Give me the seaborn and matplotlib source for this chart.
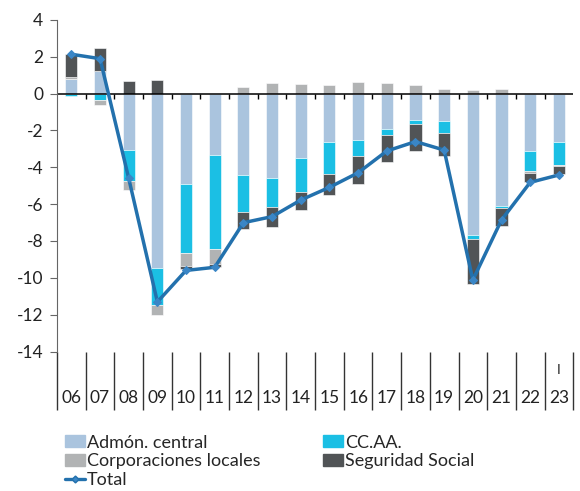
import numpy as np
import pandas as pd
import matplotlib
matplotlib.use("Agg")
import matplotlib.pyplot as plt
from matplotlib.patches import Patch
from matplotlib.lines import Line2D
import seaborn as sns

years = ["06", "07", "08", "09", "10", "11", "12", "13", "14", "15",
         "16", "17", "18", "19", "20", "21", "22", "23"]
admon = [0.77, 1.24, -3.07, -9.45, -4.91, -3.34, -4.42, -4.57, -3.48, -2.63,
         -2.52, -1.93, -1.44, -1.49, -7.68, -6.10, -3.10, -2.65]
ccaa = [-0.12, -0.35, -1.66, -2.04, -3.76, -5.11, -1.99, -1.60, -1.85, -1.72,
        -0.87, -0.32, -0.23, -0.64, -0.20, -0.10, -1.10, -1.23]
ccll = [0.11, -0.30, -0.51, -0.53, -0.69, -0.82, 0.34, 0.55, 0.50, 0.44,
        0.61, 0.55, 0.48, 0.26, 0.19, 0.26, -0.13, -0.05]
segsoc = [1.26, 1.25, 0.68, 0.73, -0.18, -0.13, -0.94, -1.06, -0.99, -1.16,
          -1.52, -1.48, -1.43, -1.24, -2.46, -0.99, -0.45, -0.44]
total = [2.13, 1.89, -4.60, -11.31, -9.60, -9.43, -7.01, -6.68, -5.78, -5.09,
         -4.30, -3.12, -2.61, -3.07, -10.12, -6.86, -4.82, -4.42]

names = ["Admón. central", "CC.AA.", "Corporaciones locales", "Seguridad Social"]
colors = ["#aac4de", "#1bbfe4", "#b1b3b4", "#515456"]
line_color = "#2371ad"

sns.set_style("white")
plt.rcParams["font.family"] = ["Lato", "DejaVu Sans"]
plt.rcParams["axes.unicode_minus"] = False

fig = plt.figure(figsize=(5.8, 4.91), dpi=100)
ax = fig.add_axes([0.0983, 0.2841, 0.890, 0.6756])

pos_base = np.zeros(len(years))
neg_base = np.zeros(len(years))
for vals, col in zip([admon, ccaa, ccll, segsoc], colors):
    v = np.array(vals)
    bottom = np.where(v >= 0, pos_base, neg_base)
    sns.barplot(x=years, y=v, bottom=bottom, color=col, width=0.42,
                saturation=1, edgecolor="white", linewidth=0.4, ax=ax)
    pos_base = pos_base + np.where(v >= 0, v, 0)
    neg_base = neg_base + np.where(v < 0, v, 0)

x = np.arange(len(years))
sns.lineplot(x=x, y=total, color=line_color, linewidth=2.5, marker="D",
             markersize=4.5, markerfacecolor="#3a86c6",
             markeredgecolor="#3a86c6", ax=ax)

ax.set_xlim(-0.5, len(years) - 0.5)
ax.set_ylim(-14, 4)
ax.set_yticks(np.arange(-14, 5, 2))
ax.tick_params(axis="y", left=True, length=5, color="#666666",
               labelsize=12.5, pad=5, labelcolor="#222222")
ax.set_xticks([])
ax.set_xlabel("")
ax.set_ylabel("")
for s in ["top", "right", "bottom"]:
    ax.spines[s].set_visible(False)
ax.spines["left"].set_color("#666666")
ax.spines["left"].set_bounds(-14, 4)

ax.axhline(0, color="black", linewidth=1.1, zorder=1)
bounds = np.arange(0.5, len(years) - 0.5, 1)
ax.vlines(bounds, -0.3, 0, color="black", linewidth=1, zorder=1)

# category band below the axis
edges = np.arange(-0.5, len(years), 1)
ax.vlines(edges, -0.176, 0, transform=ax.get_xaxis_transform(),
          color="#333333", linewidth=1, clip_on=False)
for i, y in enumerate(years):
    ax.text(i, -0.140, y, transform=ax.get_xaxis_transform(), ha="center",
            va="center", fontsize=12.5, color="#222222")
ax.text(len(years) - 1, -0.056, "I", transform=ax.get_xaxis_transform(),
        ha="center", va="center", fontsize=10, color="#222222")

handles = [Patch(color=colors[0]), Patch(color=colors[2]),
           Line2D([], [], color=line_color, linewidth=2.4, marker="D",
                  markersize=3.5, markerfacecolor="#3a86c6"),
           Patch(color=colors[1]), Patch(color=colors[3])]
labels = [names[0], names[2], "Total", names[1], names[3]]
fig.legend(handles, labels, ncol=2, loc="upper left",
           bbox_to_anchor=(0.112, 0.115), frameon=False, fontsize=13,
           handlelength=1.1, handleheight=0.6, handletextpad=0.1,
           columnspacing=3.5, labelspacing=0.16, borderpad=0,
           borderaxespad=0)

fig.savefig("out.png", dpi=100)
